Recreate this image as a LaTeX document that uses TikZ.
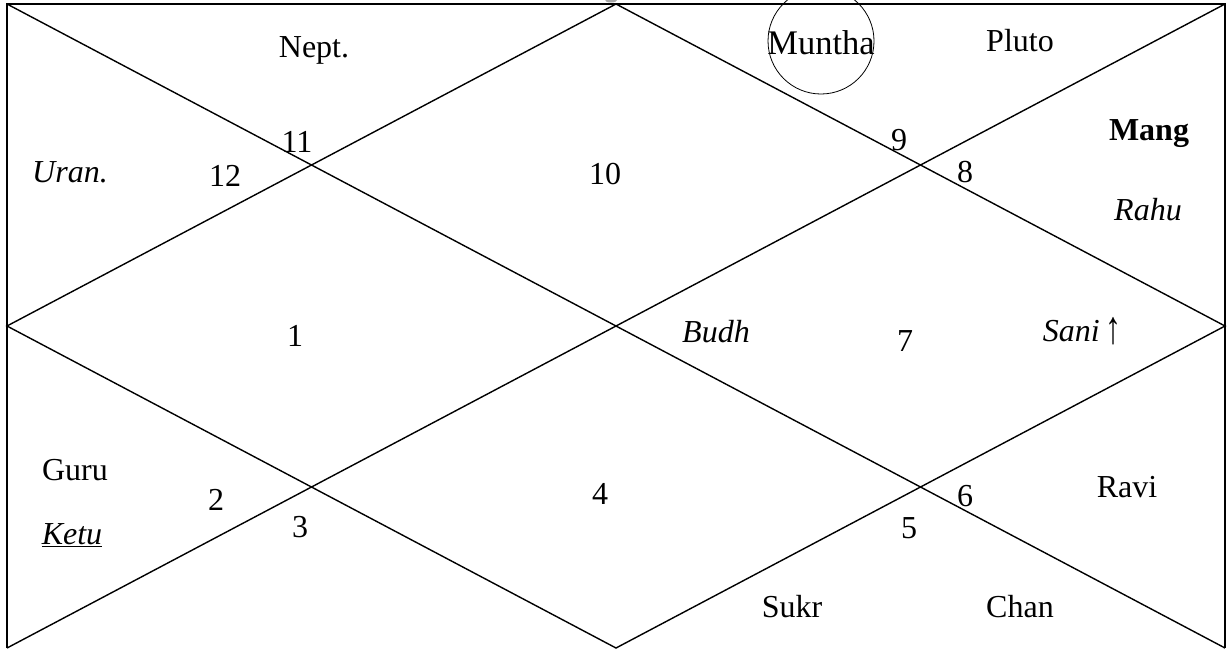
\documentclass[tikz,border=0pt]{standalone}
\usepackage{fontspec}
\usepackage{graphicx}
\setmainfont{Liberation Serif}
\begin{document}
\begin{tikzpicture}[x=1pt,y=-1pt,
  chart/.style={line width=1.4pt,black},
  lbl/.style={font=\fontsize{32}{36}\selectfont,inner sep=0pt,anchor=center},
  hnum/.style={font=\fontsize{32}{36}\selectfont,inner sep=0pt,anchor=center}]
\useasboundingbox (0,0) rectangle (1230,649);
% corners and midpoints
\coordinate (TL) at (7,4);
\coordinate (TR) at (1225,4);
\coordinate (BR) at (1225,648);
\coordinate (BL) at (7,648);
\coordinate (TM) at (616,4);
\coordinate (RM) at (1225,326);
\coordinate (BM) at (616,648);
\coordinate (LM) at (7,326);
% small grey mark above the top edge
\fill[gray!70] (611,0) ellipse [x radius=6, y radius=2.5];
% frame (bottom edge lies outside the picture)
\draw[chart] (BL) -- (TL) -- (TR) -- (BR);
% diagonals
\draw[chart] (TL) -- (BR);
\draw[chart] (BL) -- (TR);
% diamond
\draw[chart] (TM) -- (RM) -- (BM) -- (LM) -- cycle;
% house numbers
\node[hnum] (h1) at (295,336) {1};
\node[hnum] (h2) at (216,500) {2};
\node[hnum] (h3) at (300,527) {3};
\node[hnum] (h4) at (600,494) {4};
\node[hnum] (h5) at (909,528) {5};
\node[hnum] (h6) at (965,496) {6};
\node[hnum] (h7) at (905,341) {7};
\node[hnum] (h8) at (965,172) {8};
\node[hnum] (h9) at (899,140) {9};
\node[hnum] (h10) at (605,174) {10};
\node[hnum] (h11) at (297,142) {11};
\node[hnum] (h12) at (225,176) {12};
% planets
\node[lbl] (nept) at (314,50) {Nept.};
\node[lbl,font=\fontsize{34.5}{38}\selectfont] (muntha) at (821,43) {Muntha};
\node[draw,circle,line width=0.8pt,minimum size=106pt,inner sep=0pt] (mcirc) at (821,41) {};
\node[lbl] (pluto) at (1020,41) {Pluto};
\node[lbl] (uran) at (70,172) {\textit{Uran.}};
\node[lbl] (mang) at (1149,134) {\textbf{Mang}};
\node[lbl] (rahu) at (1148,210) {\textit{Rahu}};
\node[lbl] (budh) at (716,332) {\textit{Budh}};
\node[lbl] (sani) at (1082,331) {\textit{Sani}\,\raisebox{-2pt}{\scalebox{1}[1.45]{\itshape ↑}}};
\node[lbl] (guru) at (75,470) {Guru};
\node[lbl] (ketu) at (72,535) {\underline{\textit{Ketu}}};
\node[lbl] (ravi) at (1127,487) {Ravi};
\node[lbl] (sukr) at (792,607) {Sukr};
\node[lbl] (chan) at (1020,607) {Chan};
\end{tikzpicture}
\end{document}
